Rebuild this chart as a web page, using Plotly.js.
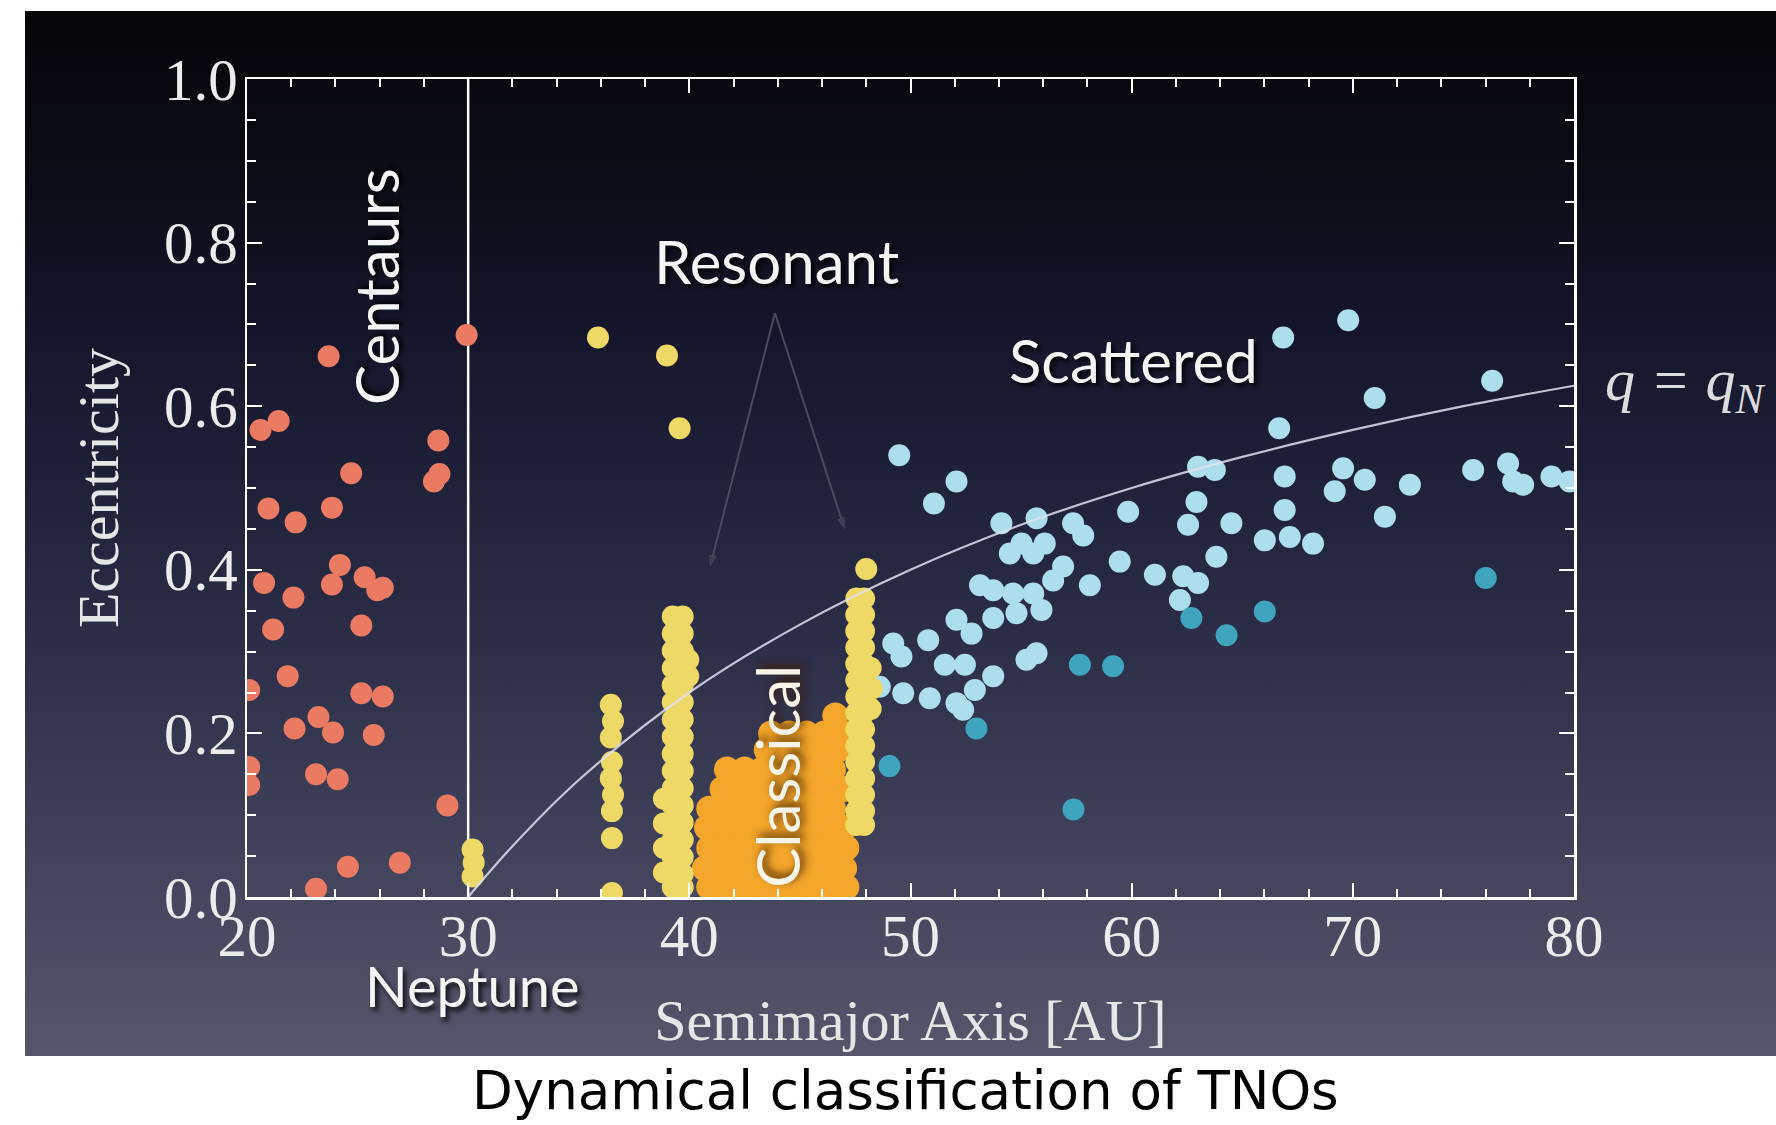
<!DOCTYPE html>
<html><head><meta charset="utf-8">
<script src="https://cdn.plot.ly/plotly-3.0.1.min.js"></script>
<style>
html,body{margin:0;padding:0;background:#ffffff;width:1776px;height:1125px;overflow:hidden;}
#bg{position:absolute;left:25px;top:11px;width:1751px;height:1045px;
background:linear-gradient(to bottom,#060608 0%,#0b0c14 15%,#14152a 30%,#1f2139 45%,#2c2d47 60%,#3b3c56 75%,#4b4b63 90%,#55556b 100%);}
#chart{position:absolute;left:0;top:0;width:1776px;height:1125px;}
</style></head><body>
<div id="bg"></div><div id="chart"></div>
<script>
// ---- data (semimajor axis [AU], eccentricity) ----
var neptuneA = [30, 30];
var neptuneE = [0, 1];

var centaurA = [20.61, 21.43, 23.69, 29.93, 28.65, 28.70, 28.45, 24.71, 20.97, 22.20, 23.84, 24.20, 23.84, 25.32, 25.89, 26.14, 20.77, 22.10, 21.18, 25.17, 21.84, 20.10, 25.17, 26.14, 22.15, 23.23, 23.89, 25.73, 20.10, 20.10, 23.12, 24.10, 29.06, 24.56, 26.91, 23.12];
var centaurE = [0.571, 0.582, 0.661, 0.687, 0.558, 0.517, 0.508, 0.518, 0.475, 0.458, 0.476, 0.406, 0.382, 0.391, 0.375, 0.378, 0.384, 0.366, 0.327, 0.332, 0.270, 0.253, 0.249, 0.245, 0.206, 0.220, 0.201, 0.198, 0.159, 0.137, 0.150, 0.144, 0.112, 0.037, 0.042, 0.010];

var scatteredA = [49.49, 52.08, 51.06, 54.11, 55.70, 57.35, 57.81, 63.00, 63.76, 59.84, 62.93, 62.55, 64.51, 55.02, 56.07, 55.55, 54.49, 56.90, 59.46, 63.83, 61.05, 62.33, 63.00, 62.18, 58.11, 53.14, 53.74, 54.64, 56.45, 55.55, 55.92, 54.79, 52.08, 53.74, 52.76, 49.22, 50.80, 49.59, 51.55, 52.46, 53.74, 55.24, 55.70, 48.61, 49.67, 50.87, 52.08, 52.91, 52.38,
  66.85, 69.79, 70.99, 66.67, 76.30, 66.92, 69.56, 70.54, 69.18, 72.58, 71.45, 66.92, 66.02, 67.15, 68.20, 75.44, 77.02, 77.25, 77.70, 78.98, 79.80];
var scatteredE = [0.540, 0.508, 0.481, 0.457, 0.463, 0.457, 0.442, 0.526, 0.522, 0.471, 0.483, 0.455, 0.457, 0.432, 0.432, 0.420, 0.420, 0.404, 0.410, 0.416, 0.394, 0.392, 0.384, 0.363, 0.381, 0.381, 0.375, 0.371, 0.387, 0.371, 0.351, 0.347, 0.339, 0.341, 0.322, 0.310, 0.314, 0.294, 0.284, 0.284, 0.270, 0.290, 0.298, 0.257, 0.249, 0.243, 0.237, 0.253, 0.229,
  0.684, 0.705, 0.610, 0.573, 0.631, 0.514, 0.524, 0.510, 0.496, 0.504, 0.465, 0.473, 0.436, 0.440, 0.432, 0.522, 0.530, 0.508, 0.504, 0.514, 0.508];

var detachedA = [62.70, 64.29, 57.66, 59.16, 52.98, 49.05, 57.37, 66.02, 76.01];
var detachedE = [0.341, 0.320, 0.284, 0.282, 0.206, 0.160, 0.107, 0.349, 0.390];

var classicalA = [40.9, 41.7, 42.5, 43.3, 44.1, 44.9, 45.7, 46.5, 47.1,
  40.7, 41.5, 42.3, 43.1, 43.9, 44.7, 45.5, 46.3, 47.0,
  40.9, 41.7, 42.5, 43.3, 44.1, 44.9, 45.7, 46.5, 47.1,
  40.8, 41.6, 42.4, 43.2, 44.0, 44.8, 45.6, 46.4, 47.0,
  40.9, 41.7, 42.5, 43.3, 44.1, 44.9, 45.7, 46.5,
  41.5, 42.3, 43.1, 43.9, 44.7, 45.5, 46.3, 47.0,
  41.7, 42.5, 43.3, 44.1, 44.9, 45.7, 46.5,
  43.5, 44.3, 45.1, 45.9, 46.7,
  43.7, 44.5, 45.3, 46.1, 46.8, 46.6];
var classicalE = [0.012, 0.012, 0.012, 0.012, 0.012, 0.012, 0.012, 0.012, 0.012,
  0.035, 0.035, 0.035, 0.035, 0.035, 0.035, 0.035, 0.035, 0.035,
  0.060, 0.060, 0.060, 0.060, 0.060, 0.060, 0.060, 0.060, 0.060,
  0.085, 0.085, 0.085, 0.085, 0.085, 0.085, 0.085, 0.085, 0.085,
  0.108, 0.108, 0.108, 0.108, 0.108, 0.108, 0.108, 0.108,
  0.132, 0.132, 0.132, 0.132, 0.132, 0.132, 0.132, 0.132,
  0.156, 0.156, 0.156, 0.156, 0.156, 0.156, 0.156,
  0.180, 0.180, 0.180, 0.180, 0.180,
  0.200, 0.200, 0.200, 0.200, 0.203, 0.222];

var resonantA = [35.87, 38.99, 39.56, 48.00,
  30.20, 30.25, 30.20,
  36.45, 36.55, 36.45, 36.50, 36.45, 36.55, 36.50, 36.50, 36.50,
  39.25, 39.70, 39.25, 39.70, 39.25, 39.70, 39.25, 39.70, 39.25, 39.70, 39.25, 39.70, 39.25, 39.70, 39.25, 39.70, 39.25, 39.70,
  39.25, 39.70, 39.25, 39.70, 39.25, 39.70, 39.25, 39.70, 39.25, 39.70, 39.25, 39.70, 39.25, 39.70, 39.25, 39.70,
  38.85, 38.85, 38.85, 38.85, 39.95, 39.95,
  47.55, 47.90, 47.55, 47.90, 47.55, 47.90, 47.55, 47.90, 47.55, 47.90, 47.55, 47.90, 47.55, 47.90, 47.55, 47.90,
  47.55, 47.90, 47.55, 47.90, 47.55, 47.90, 47.55, 47.90, 47.55, 47.90, 47.55, 47.90, 47.55, 47.90,
  48.20, 48.25, 48.20];
var resonantE = [0.684, 0.662, 0.573, 0.401,
  0.058, 0.042, 0.025,
  0.235, 0.215, 0.195, 0.165, 0.145, 0.125, 0.105, 0.072, 0.005,
  0.343, 0.343, 0.322, 0.322, 0.301, 0.301, 0.280, 0.280, 0.259, 0.259, 0.238, 0.238, 0.217, 0.217, 0.196, 0.196, 0.175, 0.175,
  0.154, 0.154, 0.133, 0.133, 0.112, 0.112, 0.091, 0.091, 0.070, 0.070, 0.049, 0.049, 0.028, 0.028, 0.012, 0.012,
  0.120, 0.090, 0.060, 0.030, 0.290, 0.270,
  0.365, 0.365, 0.345, 0.345, 0.325, 0.325, 0.305, 0.305, 0.285, 0.285, 0.265, 0.265, 0.245, 0.245, 0.225, 0.225,
  0.205, 0.205, 0.185, 0.185, 0.165, 0.165, 0.145, 0.145, 0.125, 0.125, 0.105, 0.105, 0.088, 0.088,
  0.280, 0.255, 0.230];

// q = q_Neptune curve
var curveA = [30, 32, 35, 40, 45, 50, 55, 60, 65, 70, 75, 80];
var curveE = [0.0, 0.062, 0.143, 0.25, 0.333, 0.40, 0.455, 0.50, 0.538, 0.571, 0.60, 0.625];

// arrows from the "Resonant" label down to the resonances
var arrowLeftA = [43.87, 40.93];
var arrowLeftE = [0.714, 0.403];
var arrowRightA = [43.87, 47.03];
var arrowRightE = [0.714, 0.449];

var xTickVals = [20, 30, 40, 50, 60, 70, 80];
var yTickVals = [0.0, 0.2, 0.4, 0.6, 0.8, 1.0];

// ---- styles ----
function dots(a, e, color, size) {
  return {type: 'scatter', mode: 'markers', x: a, y: e, hoverinfo: 'skip',
    marker: {size: size || 22, color: color, line: {width: 0}}};
}
function arrow(a, e) {
  return {type: 'scatter', mode: 'lines+markers', x: a, y: e, hoverinfo: 'skip',
    line: {color: '#4a4a5c', width: 2},
    marker: {symbol: 'arrow', size: [0, 13], angleref: 'previous', color: '#4a4a5c', line: {width: 0}}};
}

var traces = [
  {type: 'scatter', mode: 'lines', x: neptuneA, y: neptuneE, hoverinfo: 'skip', line: {color: '#ffffff', width: 2.5}},
  arrow(arrowLeftA, arrowLeftE),
  arrow(arrowRightA, arrowRightE),
  dots(centaurA, centaurE, '#ea7a62'),
  dots(scatteredA, scatteredE, '#acdeec'),
  dots(detachedA, detachedE, '#3fa5bf'),
  dots(classicalA, classicalE, '#f4a62a', 26),
  dots(resonantA, resonantE, '#efd966'),
  {type: 'scatter', mode: 'lines', x: curveA, y: curveE, hoverinfo: 'skip', line: {color: 'rgba(225,225,240,0.85)', width: 2.2, shape: 'spline'}}
];

var tickFont = {family: 'Liberation Serif', size: 59, color: '#ececec'};
var labelFont = {family: 'Lato', size: 60, color: '#f5f5f5', shadow: '3px 3px 4px rgba(0,0,0,0.85)'};

var layout = {
  width: 1776, height: 1125,
  margin: {l: 247, r: 202, t: 79, b: 228},
  paper_bgcolor: 'rgba(0,0,0,0)', plot_bgcolor: 'rgba(0,0,0,0)',
  showlegend: false,
  xaxis: {
    range: [20, 80], tickmode: 'array', tickvals: xTickVals, ticktext: xTickVals.map(String),
    ticks: 'inside', ticklen: 14, tickwidth: 2, tickcolor: '#ffffff',
    minor: {ticks: 'inside', dtick: 2, tick0: 20, ticklen: 8, tickwidth: 2, tickcolor: '#ffffff', showgrid: false},
    showline: true, linecolor: '#ffffff', linewidth: 2.5, mirror: 'ticks',
    showgrid: false, zeroline: false, tickfont: tickFont, ticklabelstandoff: -14,
    automargin: true,
    title: {text: 'Semimajor Axis [AU]', font: {family: 'Liberation Serif', size: 58, color: '#e6e6e6'}, standoff: 31}
  },
  yaxis: {
    range: [0, 1], tickmode: 'array', tickvals: yTickVals, ticktext: yTickVals.map(function(v){return v.toFixed(1);}),
    ticks: 'inside', ticklen: 15, tickwidth: 2, tickcolor: '#ffffff',
    minor: {ticks: 'inside', dtick: 0.05, tick0: 0, ticklen: 9, tickwidth: 2, tickcolor: '#ffffff', showgrid: false},
    showline: true, linecolor: '#ffffff', linewidth: 2.5, mirror: 'ticks',
    showgrid: false, zeroline: false, tickfont: tickFont, ticklabelstandoff: -5,
    automargin: true,
    title: {text: 'Eccentricity', font: {family: 'Liberation Serif', size: 58, color: '#e6e6e6'}, standoff: 27}
  },
  annotations: [
    {xref: 'x', yref: 'y', x: 43.96, y: 0.777, text: 'Resonant', showarrow: false, font: labelFont},
    {xref: 'x', yref: 'y', x: 60.1, y: 0.656, text: 'Scattered', showarrow: false, font: labelFont},
    {xref: 'x', yref: 'y', x: 25.83, y: 0.747, text: 'Centaurs', textangle: -90, showarrow: false, font: labelFont},
    {xref: 'x', yref: 'y', x: 43.96, y: 0.148, text: 'Classical', textangle: -90, showarrow: false,
      font: {family: 'Lato', size: 60, color: '#f8f4e8', shadow: '4px 4px 8px rgba(60,30,0,0.95)'}},
    {xref: 'paper', yref: 'paper', x: 0.1703, y: -0.1076, xanchor: 'center', yanchor: 'middle', text: 'Neptune', showarrow: false,
      font: {family: 'Lato', size: 56, color: '#f5f5f5', shadow: '3px 4px 5px rgba(0,0,0,0.85)'}},
    {xref: 'paper', yref: 'paper', x: 1.0219, y: 0.626, xanchor: 'left', yanchor: 'middle', text: 'q = q<sub>N</sub>', showarrow: false,
      font: {family: 'Liberation Serif', size: 60, color: '#dcdcdc', style: 'italic'}},
    {xref: 'paper', yref: 'paper', x: 0.4966, y: -0.2763, xanchor: 'center', yanchor: 'bottom', text: 'Dynamical classification of TNOs',
      showarrow: false, font: {family: 'DejaVu Sans', size: 53, color: '#000000'}}
  ]
};

Plotly.newPlot('chart', traces, layout, {staticPlot: true, displayModeBar: false});
</script>
</body></html>
